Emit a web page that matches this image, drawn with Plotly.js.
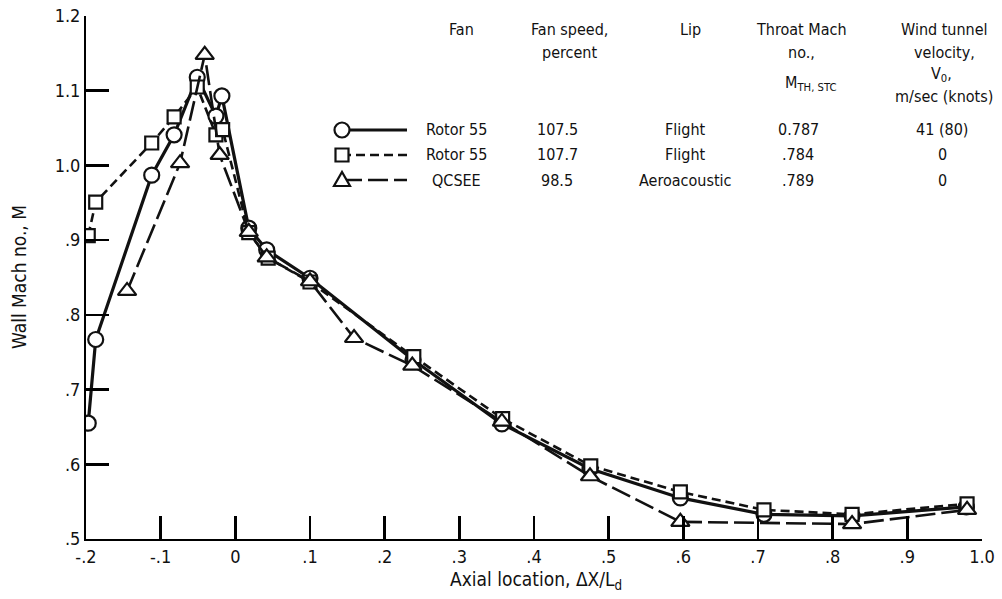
<!DOCTYPE html>
<html><head><meta charset="utf-8">
<script src="https://cdn.plot.ly/plotly-3.0.1.min.js"></script>
<style>html,body{margin:0;padding:0;background:#fff}</style>
</head><body>
<div id="chart" style="width:1002px;height:599px"></div>
<script>
// ---- data ----
const circleX = [-0.197, -0.187, -0.112, -0.082, -0.051, -0.026, -0.018, 0.018, 0.042, 0.100, 0.238, 0.357, 0.475, 0.596, 0.708, 0.826, 0.979];
const circleY = [0.655, 0.767, 0.987, 1.041, 1.118, 1.066, 1.093, 0.916, 0.887, 0.849, 0.740, 0.654, 0.594, 0.555, 0.533, 0.531, 0.543];
const squareX = [-0.197, -0.187, -0.112, -0.082, -0.051, -0.026, -0.017, 0.018, 0.044, 0.100, 0.239, 0.358, 0.476, 0.596, 0.708, 0.826, 0.980];
const squareY = [0.906, 0.951, 1.030, 1.065, 1.105, 1.041, 1.048, 0.910, 0.876, 0.844, 0.744, 0.661, 0.598, 0.563, 0.539, 0.533, 0.547];
const triX = [-0.145, -0.074, -0.041, -0.021, 0.018, 0.042, 0.100, 0.159, 0.237, 0.357, 0.475, 0.596, 0.826, 0.980];
const triY = [0.832, 1.003, 1.148, 1.014, 0.911, 0.877, 0.845, 0.769, 0.732, 0.657, 0.584, 0.523, 0.520, 0.539];

const xTickVals = [-0.2, -0.1, 0, 0.1, 0.2, 0.3, 0.4, 0.5, 0.6, 0.7, 0.8, 0.9, 1.0];
const xTickText = ['-.2', '-.1', '0', '.1', '.2', '.3', '.4', '.5', '.6', '.7', '.8', '.9', '1.0'];
const yTickVals = [0.5, 0.6, 0.7, 0.8, 0.9, 1.0, 1.1, 1.2];
const yTickText = ['.5', '.6', '.7', '.8', '.9', '1.0', '1.1', '1.2'];

const tableHeaders = [
  ['Fan'], ['Fan speed,', 'percent'], ['Lip'],
  ['Throat Mach', 'no.,', 'M<sub>TH, STC</sub>'],
  ['Wind tunnel', 'velocity,', 'V<sub>0</sub>,', 'm/sec (knots)']
];
const fanNames = ['Rotor 55', 'Rotor 55', 'QCSEE'];
const fanSpeeds = ['107.5', '107.7', '98.5'];
const lips = ['Flight', 'Flight', 'Aeroacoustic'];
const throatMach = ['0.787', '.784', '.789'];
const windVel = ['41 (80)', '0', '0'];

// ---- layout helpers ----
const W = 1002, H = 599;
const L = 86, R = 982, T = 16, B = 539;
const px = x => (x - L) / (R - L);
const py = y => (B - y) / (B - T);
const FONT = 'DejaVu Sans Condensed, Liberation Sans Narrow, Arial Narrow, sans-serif';
const ink = '#111';

const mk = (sym, size) => ({symbol: sym, size: size, color: '#fff', line: {color: ink, width: 2.2}});
const traces = [
  {x: circleX, y: circleY, mode: 'lines+markers', line: {color: ink, width: 3.2}, marker: mk('circle', 15)},
  {x: squareX, y: squareY, mode: 'lines+markers', line: {color: ink, width: 2.6, dash: '9px,5px'}, marker: mk('square', 13)},
  {x: triX, y: triY, mode: 'lines+markers', line: {color: ink, width: 2.6, dash: '20px,6px'}, marker: mk('triangle-up', 16)}
];

const annotations = [];
const colX = [461, 569, 690, 801, 944];
const headerY = [30, 52, 76, 97];
tableHeaders.forEach((lines, c) => {
  lines.forEach((t, i) => {
    let yy = headerY[i];
    let cx = colX[c];
    if (c === 3 && i === 2) { yy = 84; cx = 810; }
    if (c === 4 && i === 2) { yy = 74; cx = 941; }
    annotations.push({text: t, x: px(cx), y: py(yy), xref: 'paper', yref: 'paper', showarrow: false,
      xanchor: 'center', yanchor: 'middle', font: {family: FONT, size: 16, color: ink}});
  });
});
const rowY = [130, 155, 180];
const rowCols = [[fanNames, 456], [fanSpeeds, 557], [lips, 685], [throatMach, 798], [windVel, 942]];
rowY.forEach((yy, r) => {
  rowCols.forEach(([arr, cx]) => {
    annotations.push({text: arr[r], x: px(cx), y: py(yy), xref: 'paper', yref: 'paper', showarrow: false,
      xanchor: 'center', yanchor: 'middle', font: {family: FONT, size: 16, color: ink}});
  });
});
annotations.push({text: 'Axial location, ΔX/L<sub>d</sub>', x: px(536), y: py(580), xref: 'paper', yref: 'paper',
  showarrow: false, xanchor: 'center', yanchor: 'middle', font: {family: FONT, size: 19, color: ink}});
annotations.push({text: 'Wall Mach no., M', x: px(19), y: py(277), xref: 'paper', yref: 'paper', textangle: -90,
  showarrow: false, xanchor: 'center', yanchor: 'middle', font: {family: FONT, size: 19, color: ink}});

// legend samples
const shapes = [];
const lgX = 342;
const lgDash = ['solid', '9px,5px', '20px,6px'];
rowY.forEach((yy, r) => {
  shapes.push({type: 'line', xref: 'paper', yref: 'paper', x0: px(lgX), x1: px(407), y0: py(yy), y1: py(yy),
    line: {color: ink, width: r === 0 ? 3.2 : 2.6, dash: lgDash[r]}});
});
shapes.push({type: 'circle', xref: 'paper', yref: 'paper', xsizemode: 'pixel', ysizemode: 'pixel',
  xanchor: px(lgX), yanchor: py(rowY[0]), x0: -7.5, x1: 7.5, y0: -7.5, y1: 7.5, fillcolor: '#fff', line: {color: ink, width: 2.2}});
shapes.push({type: 'rect', xref: 'paper', yref: 'paper', xsizemode: 'pixel', ysizemode: 'pixel',
  xanchor: px(lgX), yanchor: py(rowY[1]), x0: -6.5, x1: 6.5, y0: -6.5, y1: 6.5, fillcolor: '#fff', line: {color: ink, width: 2.2}});
shapes.push({type: 'path', xref: 'paper', yref: 'paper', xsizemode: 'pixel', ysizemode: 'pixel',
  xanchor: px(lgX), yanchor: py(rowY[2]), path: 'M -8 -6 L 8 -6 L 0 8 Z', fillcolor: '#fff', line: {color: ink, width: 2.2}});

const layout = {
  width: W, height: H,
  margin: {l: L, r: W - R, t: T, b: H - B},
  paper_bgcolor: '#fff', plot_bgcolor: '#fff',
  showlegend: false,
  font: {family: FONT, size: 16, color: ink},
  xaxis: {range: [-0.2, 1.0], tickvals: xTickVals, ticktext: xTickText, ticks: 'inside', ticklen: 23, tickwidth: 2.5,
    tickcolor: '#000', showline: true, linecolor: '#000', linewidth: 2, showgrid: false, zeroline: false,
    tickfont: {family: FONT, size: 18, color: ink}},
  yaxis: {range: [0.5, 1.2], tickvals: yTickVals, ticktext: yTickText, ticks: 'inside', ticklen: 23, tickwidth: 2.5,
    tickcolor: '#000', showline: true, linecolor: '#000', linewidth: 2, showgrid: false, zeroline: false,
    tickfont: {family: FONT, size: 18, color: ink}},
  annotations: annotations,
  shapes: shapes
};
Plotly.newPlot('chart', traces, layout, {displayModeBar: false, staticPlot: true});
</script>
</body></html>
